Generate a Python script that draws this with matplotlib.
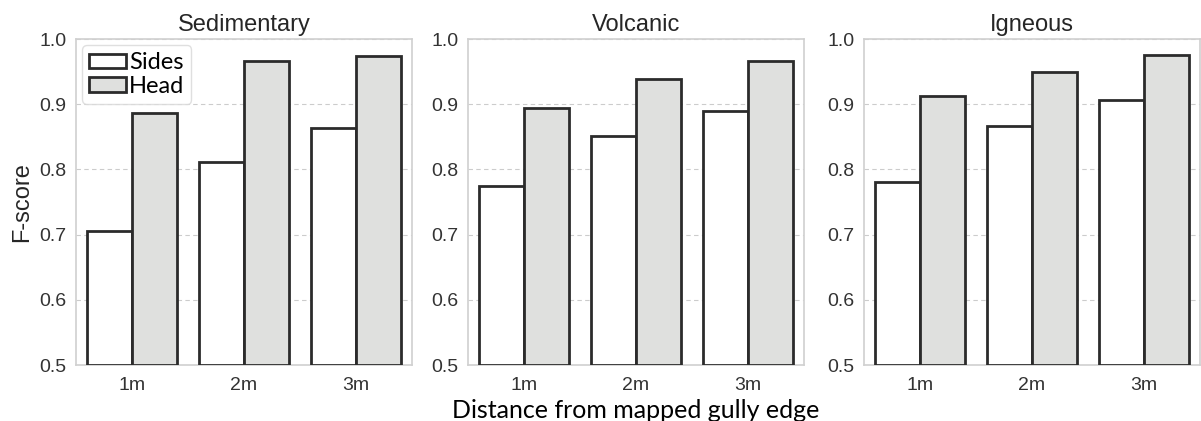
import matplotlib
matplotlib.use("Agg")
import matplotlib.pyplot as plt
from matplotlib.patches import Patch
import numpy as np

# F-score per rock type, by distance from mapped gully edge
distances = ["1m", "2m", "3m"]
panels = ["Sedimentary", "Volcanic", "Igneous"]
sides = {
    "Sedimentary": [0.706, 0.811, 0.864],
    "Volcanic": [0.774, 0.851, 0.890],
    "Igneous": [0.781, 0.866, 0.907],
}
head = {
    "Sedimentary": [0.886, 0.966, 0.974],
    "Volcanic": [0.894, 0.938, 0.967],
    "Igneous": [0.912, 0.949, 0.976],
}
y_ticks = [0.5, 0.6, 0.7, 0.8, 0.9, 1.0]

plt.rcParams["font.family"] = ["Liberation Sans", "DejaVu Sans"]

W, H = 1201, 421
fig = plt.figure(figsize=(W / 100, H / 100), dpi=100)

lefts = [76, 468, 864]
ax_w, ax_bottom, ax_top = 336, 365, 39
edge = "#2b2b2b"
head_fill = "#dfe0de"
bar_w = 0.4

axes = []
for left, name in zip(lefts, panels):
    ax = fig.add_axes([left / W, (H - ax_bottom) / H, ax_w / W, (ax_bottom - ax_top) / H])
    axes.append(ax)
    x = np.arange(len(distances))
    ax.bar(x - bar_w / 2, np.array(sides[name]) - 0.5, bar_w, bottom=0.5,
           facecolor="white", edgecolor=edge, linewidth=2, zorder=3)
    ax.bar(x + bar_w / 2, np.array(head[name]) - 0.5, bar_w, bottom=0.5,
           facecolor=head_fill, edgecolor=edge, linewidth=2, zorder=3)
    ax.set_xlim(-0.5, len(distances) - 0.5)
    ax.set_ylim(0.5, 1.0)
    ax.set_xticks(x)
    ax.set_xticklabels(distances)
    ax.set_yticks(y_ticks)
    ax.set_yticklabels([f"{t:.1f}" for t in y_ticks])
    ax.tick_params(axis="both", length=0, labelsize=14, colors="#333333")
    ax.tick_params(axis="x", pad=9)
    ax.tick_params(axis="y", pad=7)
    ax.yaxis.grid(True, color="#cccccc", linestyle=(0, (4, 3)), linewidth=0.8, zorder=0)
    for s in ax.spines.values():
        s.set_color("#d0d0d0")
        s.set_linewidth(1.2)
    ax.set_title(name, fontsize=17, color="#262626", pad=6)

axes[0].set_ylabel("F-score", fontsize=17, color="#262626", labelpad=4)

handles = [
    Patch(facecolor="white", edgecolor=edge, linewidth=2, label="Sides"),
    Patch(facecolor=head_fill, edgecolor=edge, linewidth=2, label="Head"),
]
axes[0].legend(handles=handles, loc="upper left", bbox_to_anchor=(0.0, 1.0),
               prop={"family": "Lato", "size": 17}, handlelength=1.55, handleheight=0.55,
               handletextpad=0.15, labelspacing=0.12, borderpad=0.3,
               frameon=True, edgecolor="#d8d8d8", fancybox=True, borderaxespad=0.25)

fig.text(636 / W, 1 - 410 / H, "Distance from mapped gully edge", ha="center", va="center",
         fontsize=18, family="Lato", color="black")

fig.savefig("out.png", dpi=100)
